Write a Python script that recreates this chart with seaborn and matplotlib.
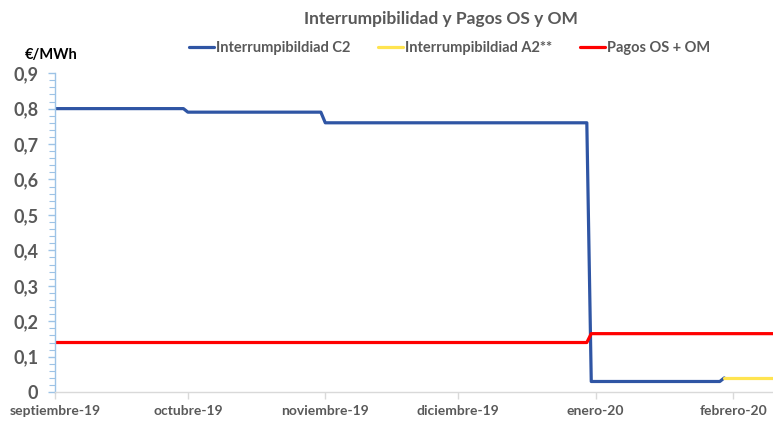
import matplotlib
matplotlib.use('Agg')

import numpy as np
import pandas as pd
import matplotlib.pyplot as plt
from matplotlib.ticker import MultipleLocator, FuncFormatter
import seaborn as sns

# Interrumpibilidad C2 (change points)
c2_dates = ['2019-09-01', '2019-09-30', '2019-10-01', '2019-10-31', '2019-11-01',
            '2019-12-30', '2019-12-31', '2020-01-29', '2020-01-30']
c2_values = [0.80, 0.80, 0.79, 0.79, 0.76, 0.76, 0.03, 0.03, 0.04]

# Interrumpibilidad A2**
a2_dates = ['2020-01-30', '2020-02-10']
a2_values = [0.04, 0.04]

# Pagos OS + OM
pagos_dates = ['2019-09-01', '2019-12-30', '2019-12-31', '2020-02-10']
pagos_values = [0.14, 0.14, 0.165, 0.165]

month_ticks = ['2019-09-01', '2019-10-01', '2019-11-01', '2019-12-01', '2020-01-01', '2020-02-01']
month_labels = ['septiembre-19', 'octubre-19', 'noviembre-19', 'diciembre-19', 'enero-20', 'febrero-20']

sns.set_style('white')
plt.rcParams['font.family'] = ['Lato', 'DejaVu Sans']

GREY = '#595959'

df_c2 = pd.DataFrame({'fecha': pd.to_datetime(c2_dates), 'valor': c2_values})
df_a2 = pd.DataFrame({'fecha': pd.to_datetime(a2_dates), 'valor': a2_values})
df_pg = pd.DataFrame({'fecha': pd.to_datetime(pagos_dates), 'valor': pagos_values})

fig = plt.figure(figsize=(7.73, 4.23), dpi=100)
ax = fig.add_axes([0.071, 0.073, 0.929, 0.754])

sns.lineplot(data=df_c2, x='fecha', y='valor', ax=ax, color='#2F55A4', lw=2.3,
             label='Interrumpibildiad C2')
sns.lineplot(data=df_a2, x='fecha', y='valor', ax=ax, color='#FFE450', lw=2.3,
             label='Interrumpibildiad A2**')
sns.lineplot(data=df_pg, x='fecha', y='valor', ax=ax, color='#FF0000', lw=2.3,
             label='Pagos OS + OM')

ax.set_xlim(pd.Timestamp('2019-09-01'), pd.Timestamp('2020-02-10'))
ax.set_ylim(0, 0.9)
ax.set_xlabel('')
ax.set_ylabel('')

ax.set_xticks(pd.to_datetime(month_ticks))
ax.set_xticklabels(month_labels)
ax.yaxis.set_major_locator(MultipleLocator(0.1))
ax.yaxis.set_minor_locator(MultipleLocator(0.02))
ax.yaxis.set_major_formatter(FuncFormatter(lambda v, p: '0' if abs(v) < 1e-9 else ('%.1f' % v).replace('.', ',')))

for s in ['top', 'right']:
    ax.spines[s].set_visible(False)
ax.spines['left'].set_color('#9DC3E6')
ax.spines['left'].set_linewidth(1)
ax.spines['bottom'].set_color('#D9D9D9')
ax.spines['bottom'].set_linewidth(1)

ax.tick_params(axis='y', which='major', left=True, length=5, width=1, color='#9DC3E6',
               labelsize=13, labelcolor=GREY, pad=7)
ax.tick_params(axis='y', which='minor', left=True, length=4, width=0.8, color='#9DC3E6')
ax.tick_params(axis='x', which='major', bottom=True, length=5, width=1, color='#D9D9D9',
               labelsize=10, labelcolor=GREY, pad=4)
for lab in ax.get_xticklabels() + ax.get_yticklabels():
    lab.set_fontweight('bold')

fig.text(0.57, 0.955, 'Interrumpibilidad y Pagos OS y OM', ha='center', va='center',
         fontsize=12.5, fontweight='bold', color=GREY)
fig.text(0.032, 0.87, '€/MWh', ha='left', va='center', fontsize=10.5,
         fontweight='bold', color='black')

leg = ax.legend(loc='center', bbox_to_anchor=(0.55, 1.08), ncol=3, frameon=False,
                handlelength=1.7, handletextpad=0.15, columnspacing=1.9,
                prop={'weight': 'bold', 'size': 10.5})
for t in leg.get_texts():
    t.set_color(GREY)

fig.savefig('out.png', dpi=100)
